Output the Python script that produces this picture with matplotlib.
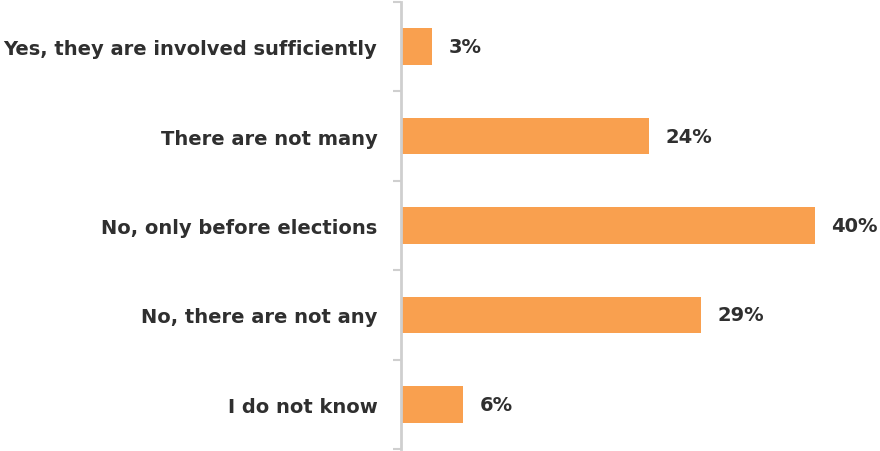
import matplotlib
matplotlib.use("Agg")
import matplotlib.pyplot as plt
import numpy as np

categories = [
    "Yes, they are involved sufficiently",
    "There are not many",
    "No, only before elections",
    "No, there are not any",
    "I do not know",
]
values = [3, 24, 40, 29, 6]

bar_color = "#F9A04F"
text_color = "#2f2f2f"
axis_color = "#cfcfcf"

fig = plt.figure(figsize=(8.8, 4.52), dpi=100)
ax = fig.add_axes([401 / 880, 2 / 452, 1 - 401 / 880, 447 / 452])

y = np.arange(len(categories))
ax.barh(y, values, height=0.41, color=bar_color, zorder=2)

ax.set_ylim(len(categories) - 0.5, -0.5)
ax.set_xlim(0, 46.3)

for yi, v in zip(y, values):
    ax.text(v + 1.6, yi, f"{v}%", va="center", ha="left",
            fontsize=14, fontweight="bold", color=text_color)

for s in ["top", "right", "bottom"]:
    ax.spines[s].set_visible(False)
ax.spines["left"].set_color(axis_color)
ax.spines["left"].set_linewidth(2)

ax.set_xticks([])
ax.set_yticks(y)
ax.set_yticklabels(categories, fontsize=14, fontweight="bold", color=text_color)
ax.tick_params(axis="y", which="major", length=0, pad=17)
ax.set_yticks(np.arange(-0.5, len(categories) + 0.5, 1), minor=True)
ax.tick_params(axis="y", which="minor", length=6, width=1.5, color=axis_color)

fig.savefig("out.png", dpi=100)
